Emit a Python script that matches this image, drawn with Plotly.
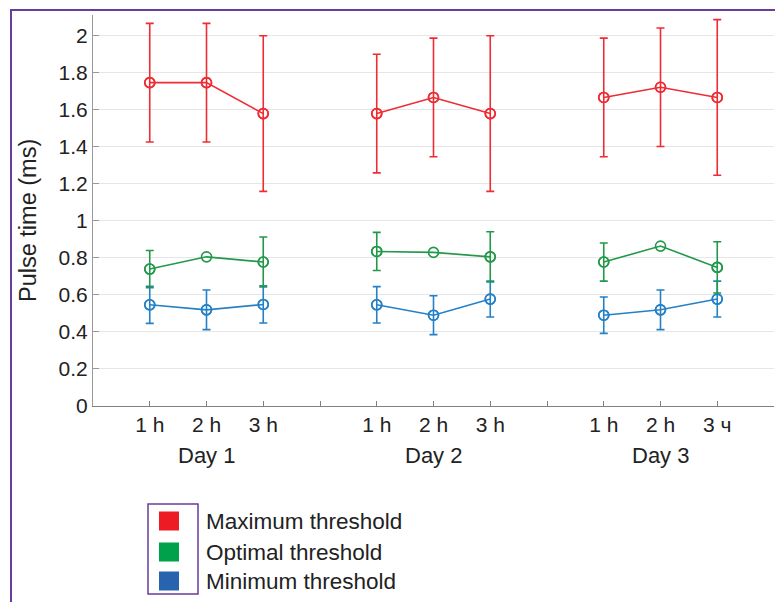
import plotly.graph_objects as go

# ---- data ----
x_pos = [1, 2, 3, 5, 6, 7, 9, 10, 11]
tick_vals = [1, 2, 3, 4, 5, 6, 7, 8, 9, 10, 11, 12]
tick_text = ["1 h", "2 h", "3 h", "", "1 h", "2 h", "3 h", "", "1 h", "2 h", "3 ч", ""]
day_labels = ["Day 1", "Day 2", "Day 3"]
day_centers = [2, 6, 10]

max_vals = [1.745, 1.745, 1.578, 1.578, 1.665, 1.578, 1.665, 1.72, 1.665]
max_err = [0.32, 0.32, 0.42, 0.32, 0.32, 0.42, 0.32, 0.32, 0.42]

opt_vals = [0.739, 0.805, 0.777, 0.834, 0.829, 0.805, 0.777, 0.863, 0.748]
opt_err = [0.10, None, 0.135, 0.103, None, 0.135, 0.103, None, 0.138]

min_vals = [0.546, 0.519, 0.548, 0.546, 0.490, 0.577, 0.490, 0.519, 0.577]
min_err = [0.10, 0.107, 0.10, 0.098, 0.105, 0.097, 0.098, 0.107, 0.097]

legend_names = ["Maximum threshold", "Optimal threshold", "Minimum threshold"]

# ---- styling ----
C_RED, C_GREEN, C_BLUE = "#ef2b33", "#23984a", "#2580c6"
L_RED, L_GREEN, L_BLUE = "#ed1c24", "#00a14b", "#2864ae"
PURPLE = "#6a3d9a"
FONT = "Liberation Sans, Arial, sans-serif"

OFF = 8  # default page body margin
W, H = 783 - OFF, 602 - OFF
ML, MR, MT, MB = 93 - OFF, 9, 15 - OFF, 196
PW, PH = W - ML - MR, H - MT - MB


def px_x(px):
    # page pixel -> paper coordinate
    return (px - OFF - ML) / PW


def px_y(py):
    return (H - MB - (py - OFF)) / PH


fig = go.Figure()


def add_series(vals, errs, color):
    ex = [x for x, e in zip(x_pos, errs) if e is not None]
    ey = [v for v, e in zip(vals, errs) if e is not None]
    ee = [e for e in errs if e is not None]
    fig.add_trace(go.Scatter(
        x=ex, y=ey, mode="markers",
        marker=dict(symbol="circle-open", size=10, color=color, line=dict(width=1.6, color=color)),
        error_y=dict(type="data", array=ee, visible=True, color=color, thickness=1.6, width=4),
        showlegend=False, hoverinfo="skip",
    ))
    for d in range(3):
        fig.add_trace(go.Scatter(
            x=x_pos[3 * d:3 * d + 3], y=vals[3 * d:3 * d + 3], mode="lines+markers",
            line=dict(color=color, width=1.6),
            marker=dict(symbol="circle-open", size=10, color=color, line=dict(width=1.6, color=color)),
            showlegend=False,
        ))


add_series(min_vals, min_err, C_BLUE)
add_series(opt_vals, opt_err, C_GREEN)
add_series(max_vals, max_err, C_RED)

annotations = []
for lab, c in zip(day_labels, day_centers):
    annotations.append(dict(x=c, y=px_y(455), xref="x", yref="paper", text=lab, showarrow=False,
                            font=dict(size=22, color="#222", family=FONT), xanchor="center", yanchor="middle"))

annotations.append(dict(x=px_x(28), y=px_y(221), xref="paper", yref="paper", text="Pulse time (ms)",
                        textangle=-90, showarrow=False, font=dict(size=23.5, color="#222", family=FONT),
                        xanchor="center", yanchor="middle"))

shapes = []
shapes.append(dict(type="rect", xref="paper", yref="paper", x0=px_x(11), x1=px_x(800),
                   y0=px_y(10), y1=px_y(640), line=dict(color=PURPLE, width=2), fillcolor="rgba(0,0,0,0)"))
shapes.append(dict(type="rect", xref="paper", yref="paper", x0=px_x(148), x1=px_x(198),
                   y0=px_y(504), y1=px_y(594), line=dict(color=PURPLE, width=1.5), fillcolor="rgba(0,0,0,0)"))
leg_cols = [L_RED, L_GREEN, L_BLUE]
leg_y = [521, 552, 581]
for name, col, yc in zip(legend_names, leg_cols, leg_y):
    shapes.append(dict(type="rect", xref="paper", yref="paper", x0=px_x(159), x1=px_x(179),
                       y0=px_y(yc - 9.5), y1=px_y(yc + 9.5), line=dict(width=0), fillcolor=col))
    annotations.append(dict(x=px_x(204), y=px_y(yc), xref="paper", yref="paper", text=name,
                            showarrow=False, xanchor="left", yanchor="middle",
                            font=dict(size=22.5, color="#222", family=FONT)))

fig.update_layout(
    width=W, height=H,
    margin=dict(l=ML, r=MR, t=MT, b=MB),
    paper_bgcolor="white", plot_bgcolor="white",
    font=dict(family=FONT, size=21, color="#222"),
    showlegend=False,
    annotations=annotations,
    shapes=shapes,
    xaxis=dict(range=[0, 12], tickvals=tick_vals, ticktext=tick_text, ticks="inside", ticklen=5,
               tickcolor="#808080", showline=True, linecolor="#808080", linewidth=1,
               showgrid=False, zeroline=False, tickfont=dict(size=21, family=FONT, color="#222")),
    yaxis=dict(range=[0, 2.11], tickvals=[0, 0.2, 0.4, 0.6, 0.8, 1, 1.2, 1.4, 1.6, 1.8, 2],
               ticktext=["0", "0.2", "0.4", "0.6", "0.8", "1", "1.2", "1.4", "1.6", "1.8", "2"],
               ticks="inside", ticklen=6, tickcolor="#999", showline=True, linecolor="#999",
               linewidth=1, showgrid=True, gridcolor="#e6e6e6", gridwidth=1, zeroline=False,
               tickfont=dict(size=21, family=FONT, color="#222")),
)

fig.write_html("out.html")
